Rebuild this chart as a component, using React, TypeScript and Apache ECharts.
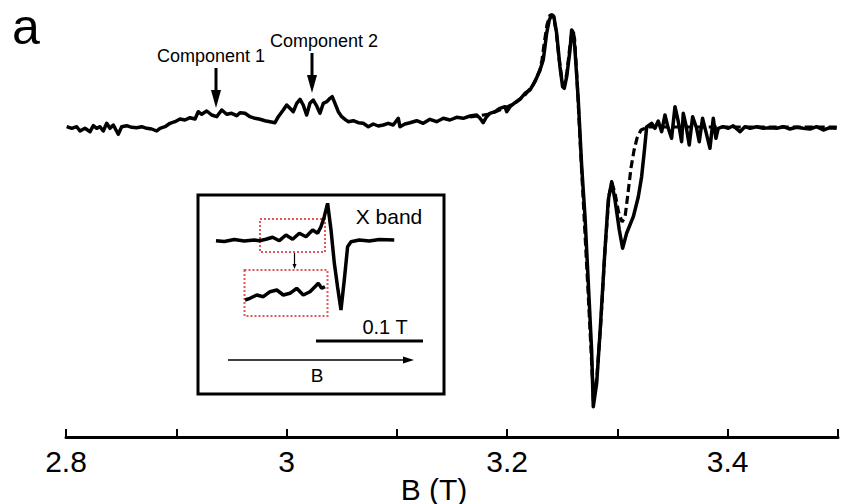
import React, { useEffect, useRef } from "react";
import * as echarts from "echarts";

// Main spectrum (Q-band-like), field in T, intensity in arbitrary units
const fieldSolid = [
  2.8006, 2.8052, 2.8097, 2.8127, 2.8172, 2.8218, 2.8248, 2.8278, 2.8308, 2.8338,
  2.8369, 2.8399, 2.8429, 2.8474, 2.8505, 2.855, 2.8596, 2.8641, 2.8686, 2.8732,
  2.8777, 2.8822, 2.8852, 2.8898, 2.8943, 2.8988, 2.9034, 2.9079, 2.9124, 2.917,
  2.9199, 2.923, 2.9276, 2.9321, 2.9366, 2.9412, 2.9457, 2.9502, 2.9548,
  2.9578, 2.9623, 2.9668, 2.9714, 2.9759, 2.9804, 2.985, 2.9895, 2.9925, 2.997,
  3.0001, 3.0031, 3.0061, 3.0092, 3.0122, 3.0151, 3.0182, 3.0212, 3.0242, 3.0273,
  3.0303, 3.0333, 3.0364, 3.0394, 3.0414, 3.0439, 3.0469, 3.05, 3.053, 3.0559,
  3.0605, 3.065, 3.0695, 3.0741, 3.0786, 3.0831, 3.0877, 3.0922, 3.0967, 3.1013,
  3.1028, 3.1073, 3.1119,
  3.118, 3.1239, 3.13, 3.1361, 3.1421, 3.1481, 3.1542, 3.1602, 3.1663, 3.1723,
  3.1754, 3.1783, 3.1814, 3.1844, 3.189, 3.1935, 3.198, 3.1996, 3.2026, 3.2071,
  3.2116, 3.2162, 3.2207, 3.2252, 3.2298, 3.2327, 3.2343, 3.2358, 3.2382, 3.2404,
  3.2424, 3.2449, 3.2479, 3.2503, 3.2518, 3.254, 3.257, 3.2585, 3.2601, 3.2615,
  3.2645, 3.2676, 3.2706, 3.2736, 3.2766, 3.2781, 3.2812, 3.2842, 3.2887, 3.2917,
  3.2948, 3.2978, 3.3017, 3.3047, 3.3084, 3.3144, 3.3189, 3.3219, 3.3245, 3.3265,
  3.331, 3.334, 3.337, 3.3401, 3.3431, 3.3461, 3.3491, 3.3522, 3.3552, 3.3582,
  3.3597, 3.3621, 3.3651, 3.3682, 3.3718, 3.3742, 3.3772, 3.3802, 3.3839, 3.3869,
  3.3893, 3.3914, 3.3959, 3.4005, 3.405, 3.4111, 3.4156, 3.4202, 3.4262, 3.4322,
  3.4383, 3.4444, 3.4504, 3.4564, 3.4625, 3.4685, 3.4746, 3.4806, 3.4867, 3.4927,
  3.4988,
];
const intensitySolid = [
  0.003, -0.013, 0.003, -0.04, -0.013, -0.047, 0.013, -0.013, 0.003, -0.04,
  0.037, -0.013, 0.02, -0.073, 0.003, 0.013, -0.003, -0.007, 0.003, -0.013,
  -0.02, -0.04, -0.013, 0.003, 0.037, 0.053, 0.08, 0.07, 0.093, 0.08,
  0.153, 0.127, 0.16, 0.12, 0.103, 0.17, 0.127, 0.137, 0.113,
  0.143, 0.137, 0.103, 0.087, 0.077, 0.063, 0.053, 0.043, 0.103, 0.17,
  0.22, 0.187, 0.153, 0.237, 0.277, 0.22, 0.12, 0.237, 0.27, 0.21,
  0.137, 0.237, 0.253, 0.287, 0.303, 0.237, 0.153, 0.103, 0.077, 0.053,
  0.063, 0.043, 0.037, 0.003, 0.03, 0.01, 0.02, 0.037, 0.02, 0.087,
  0.003, 0.03, 0.043,
  0.063, 0.037, 0.077, 0.053, 0.087, 0.07, 0.097, 0.087, 0.11, 0.12,
  0.087, 0.043, 0.103, 0.137, 0.153, 0.187, 0.203, 0.153, 0.203, 0.243,
  0.277, 0.337, 0.37, 0.453, 0.57, 0.67, 0.803, 0.937, 1.07, 1.12,
  1.103, 0.937, 0.603, 0.403, 0.387, 0.503, 0.77, 0.97, 0.94, 0.77,
  0.27, -0.397, -0.897, -1.56, -2.23, -2.797, -2.56, -2.06, -1.23, -0.73,
  -0.547, -0.73, -1.03, -1.213, -1.06, -0.897, -0.7, -0.5, -0.23, 0.0,
  0.037, -0.013, 0.06, -0.047, 0.12, -0.013, -0.113, 0.203, 0.053, -0.147,
  0.137, 0.02, -0.18, 0.103, -0.013, -0.147, 0.087, -0.047, -0.213, 0.087,
  -0.113, -0.013, 0.003, -0.013, 0.013, -0.047, 0.003, -0.013, 0.003, -0.013,
  -0.007, -0.013, 0.003, -0.02, -0.003, -0.013, -0.02, 0.003, -0.03, -0.007,
  -0.013,
];

// Simulated fit (dashed)
const fieldFit = [
  3.1663, 3.1844, 3.198, 3.2071, 3.2162, 3.2235, 3.2298, 3.2316, 3.2334, 3.2361,
  3.2389, 3.2416, 3.2443, 3.247, 3.2497, 3.252, 3.2543, 3.257, 3.2588, 3.2611,
  3.2634, 3.2661, 3.2697, 3.2733, 3.2765, 3.2783, 3.2815, 3.2851, 3.2887, 3.2924,
  3.2951, 3.2978, 3.301, 3.3042, 3.3069, 3.3096, 3.3123, 3.3151, 3.3178, 3.3214,
  3.3278, 3.3749, 3.4999,
];
const intensityFit = [
  0.1, 0.13, 0.19, 0.24, 0.32, 0.42, 0.57, 0.67, 0.82, 1.02,
  1.12, 1.12, 0.97, 0.69, 0.47, 0.42, 0.55, 0.82, 0.95, 0.89,
  0.47, -0.13, -0.88, -1.63, -2.33, -2.75, -2.48, -1.93, -1.23, -0.68,
  -0.56, -0.66, -0.85, -0.95, -0.9, -0.66, -0.41, -0.23, -0.11, -0.03,
  0.0, 0.0, 0.0,
];

// Inset: X-band spectrum
const insetField = [
  0.3, 0.3078, 0.3171, 0.3264, 0.3358, 0.3405, 0.3467, 0.3529, 0.3592, 0.3654,
  0.3716, 0.3779, 0.3841, 0.3903, 0.395, 0.3981, 0.4012, 0.4043, 0.4075, 0.4106,
  0.4136, 0.4168, 0.4199, 0.423, 0.4262, 0.4339, 0.4433, 0.4526, 0.4666,
];
const insetIntensity = [
  0, -0.008, 0.012, -0.003, 0.007, 0, 0.014, 0.034, 0, 0.057,
  0.014, 0.074, 0.04, 0.107, 0.074, 0.14, 0.24, 0.374, 0.107, -0.226,
  -0.46, -0.693, -0.393, -0.06, -0.01, 0.007, -0.003, 0.012, 0.007,
];
// Inset: magnified low-field part
const zoomField = [
  0.3405, 0.3443, 0.3494, 0.3544, 0.3595, 0.3646, 0.3696, 0.3746, 0.3797, 0.3847,
  0.3898, 0.3936, 0.3961, 0.3987, 0.4012,
];
const zoomIntensity = [
  0, 0.017, 0.05, 0.033, 0.083, 0.1, 0.05, 0.067, 0.117, 0.05,
  0.083, 0.133, 0.167, 0.117, 0.133,
];

const xTicks = { min: 2.8, max: 3.5, interval: 0.1 };
const labelledTicks = [2.8, 3.0, 3.2, 3.4];

const FONT = "'Liberation Sans', Arial, Helvetica, sans-serif";

function zip(a: number[], b: number[]) {
  return a.map((v, i) => [v, b[i]]);
}

function txt(text: string, x: number, y: number, size: number, align = "center", vAlign = "middle") {
  return {
    type: "text",
    silent: true,
    style: {
      text,
      x,
      y,
      fill: "#000",
      fontSize: size,
      fontFamily: FONT,
      textAlign: align,
      textVerticalAlign: vAlign,
      align,
      verticalAlign: vAlign,
    },
  };
}

function line(x1: number, y1: number, x2: number, y2: number, w: number, color = "#000", dash?: number[]) {
  return {
    type: "line",
    silent: true,
    shape: { x1, y1, x2, y2 },
    style: { stroke: color, lineWidth: w, lineDash: dash },
  };
}

function tri(points: number[][]) {
  return { type: "polygon", silent: true, shape: { points }, style: { fill: "#000" } };
}

function dottedRect(x: number, y: number, width: number, height: number) {
  return {
    type: "rect",
    silent: true,
    shape: { x, y, width, height },
    style: { fill: "none", stroke: "#e2595b", lineWidth: 2, lineDash: [2, 2] },
  };
}

export default function App() {
  const ref = useRef<HTMLDivElement>(null);
  useEffect(() => {
    if (!ref.current) return;
    const chart = echarts.init(ref.current, null, { renderer: "svg" });
    const option: any = {
      animation: false,
      backgroundColor: "#fff",
      grid: [
        { left: 66, right: 3, top: 10, bottom: 67 },
        { left: 216, width: 179, top: 200, height: 115 },
        { left: 245, width: 80, top: 275, height: 30 },
      ],
      xAxis: [
        {
          type: "value",
          gridIndex: 0,
          min: xTicks.min,
          max: xTicks.max,
          interval: xTicks.interval,
          splitLine: { show: false },
          axisLine: { show: true, onZero: false, lineStyle: { color: "#000", width: 3 } },
          axisTick: { show: true, inside: true, length: 8, lineStyle: { color: "#000", width: 2 } },
          axisLabel: {
            show: true,
            color: "#000",
            fontSize: 30,
            fontFamily: FONT,
            margin: 9,
            formatter: (v: number) => {
              const hit = labelledTicks.find((t) => Math.abs(t - v) < 1e-6);
              return hit === undefined ? "" : String(hit);
            },
          },
        },
        { type: "value", gridIndex: 1, min: 0.3, max: 0.4673, show: false },
        { type: "value", gridIndex: 2, min: 0.3405, max: 0.4012, show: false },
      ],
      yAxis: [
        { type: "value", gridIndex: 0, min: -3.1, max: 1.17, show: false },
        { type: "value", gridIndex: 1, min: -0.743, max: 0.407, show: false },
        { type: "value", gridIndex: 2, min: -0.05, max: 0.25, show: false },
      ],
      series: [
        {
          type: "line",
          name: "fit",
          xAxisIndex: 0,
          yAxisIndex: 0,
          data: zip(fieldFit, intensityFit),
          showSymbol: false,
          lineStyle: { color: "#000", width: 3.2, type: [8, 4] },
          z: 2,
        },
        {
          type: "line",
          name: "experiment",
          xAxisIndex: 0,
          yAxisIndex: 0,
          data: zip(fieldSolid, intensitySolid),
          showSymbol: false,
          lineStyle: { color: "#000", width: 3.5, join: "round" },
          z: 3,
        },
        {
          type: "line",
          name: "xband",
          xAxisIndex: 1,
          yAxisIndex: 1,
          data: zip(insetField, insetIntensity),
          showSymbol: false,
          lineStyle: { color: "#000", width: 3.5 },
          z: 5,
        },
        {
          type: "line",
          name: "xband-zoom",
          xAxisIndex: 2,
          yAxisIndex: 2,
          data: zip(zoomField, zoomIntensity),
          showSymbol: false,
          lineStyle: { color: "#000", width: 3.5 },
          z: 5,
        },
      ],
      graphic: [
        txt("a", 12, 27, 50, "left", "middle"),
        txt("Component 1", 211, 56, 18),
        txt("Component 2", 324, 41, 18),
        line(216, 68, 216, 92, 3),
        tri([[211, 90], [221, 90], [216, 108]]),
        line(312, 53, 312, 77, 3),
        tri([[307, 75], [317, 75], [312, 93]]),
        txt("B (T)", 434, 489, 30),
        {
          type: "rect",
          silent: true,
          shape: { x: 198, y: 195, width: 246, height: 199 },
          style: { fill: "none", stroke: "#000", lineWidth: 3 },
          z: 4,
        },
        dottedRect(260, 219, 65, 33),
        dottedRect(244.5, 270, 83, 46),
        line(294.5, 253, 294.5, 265, 1.2),
        tri([[292.5, 264], [296.5, 264], [294.5, 269]]),
        txt("X band", 389, 216, 21),
        txt("0.1 T", 385, 327, 20),
        line(316, 341, 423, 341, 3),
        line(228, 360, 405, 360, 1.5),
        tri([[403, 356.5], [403, 363.5], [414, 360]]),
        txt("B", 317, 375, 19),
      ],
    };
    chart.setOption(option);
    return () => chart.dispose();
  }, []);
  return (
    <div
      ref={ref}
      style={{ position: "fixed", left: 0, top: 0, width: 841, height: 504, background: "#fff" }}
    />
  );
}
